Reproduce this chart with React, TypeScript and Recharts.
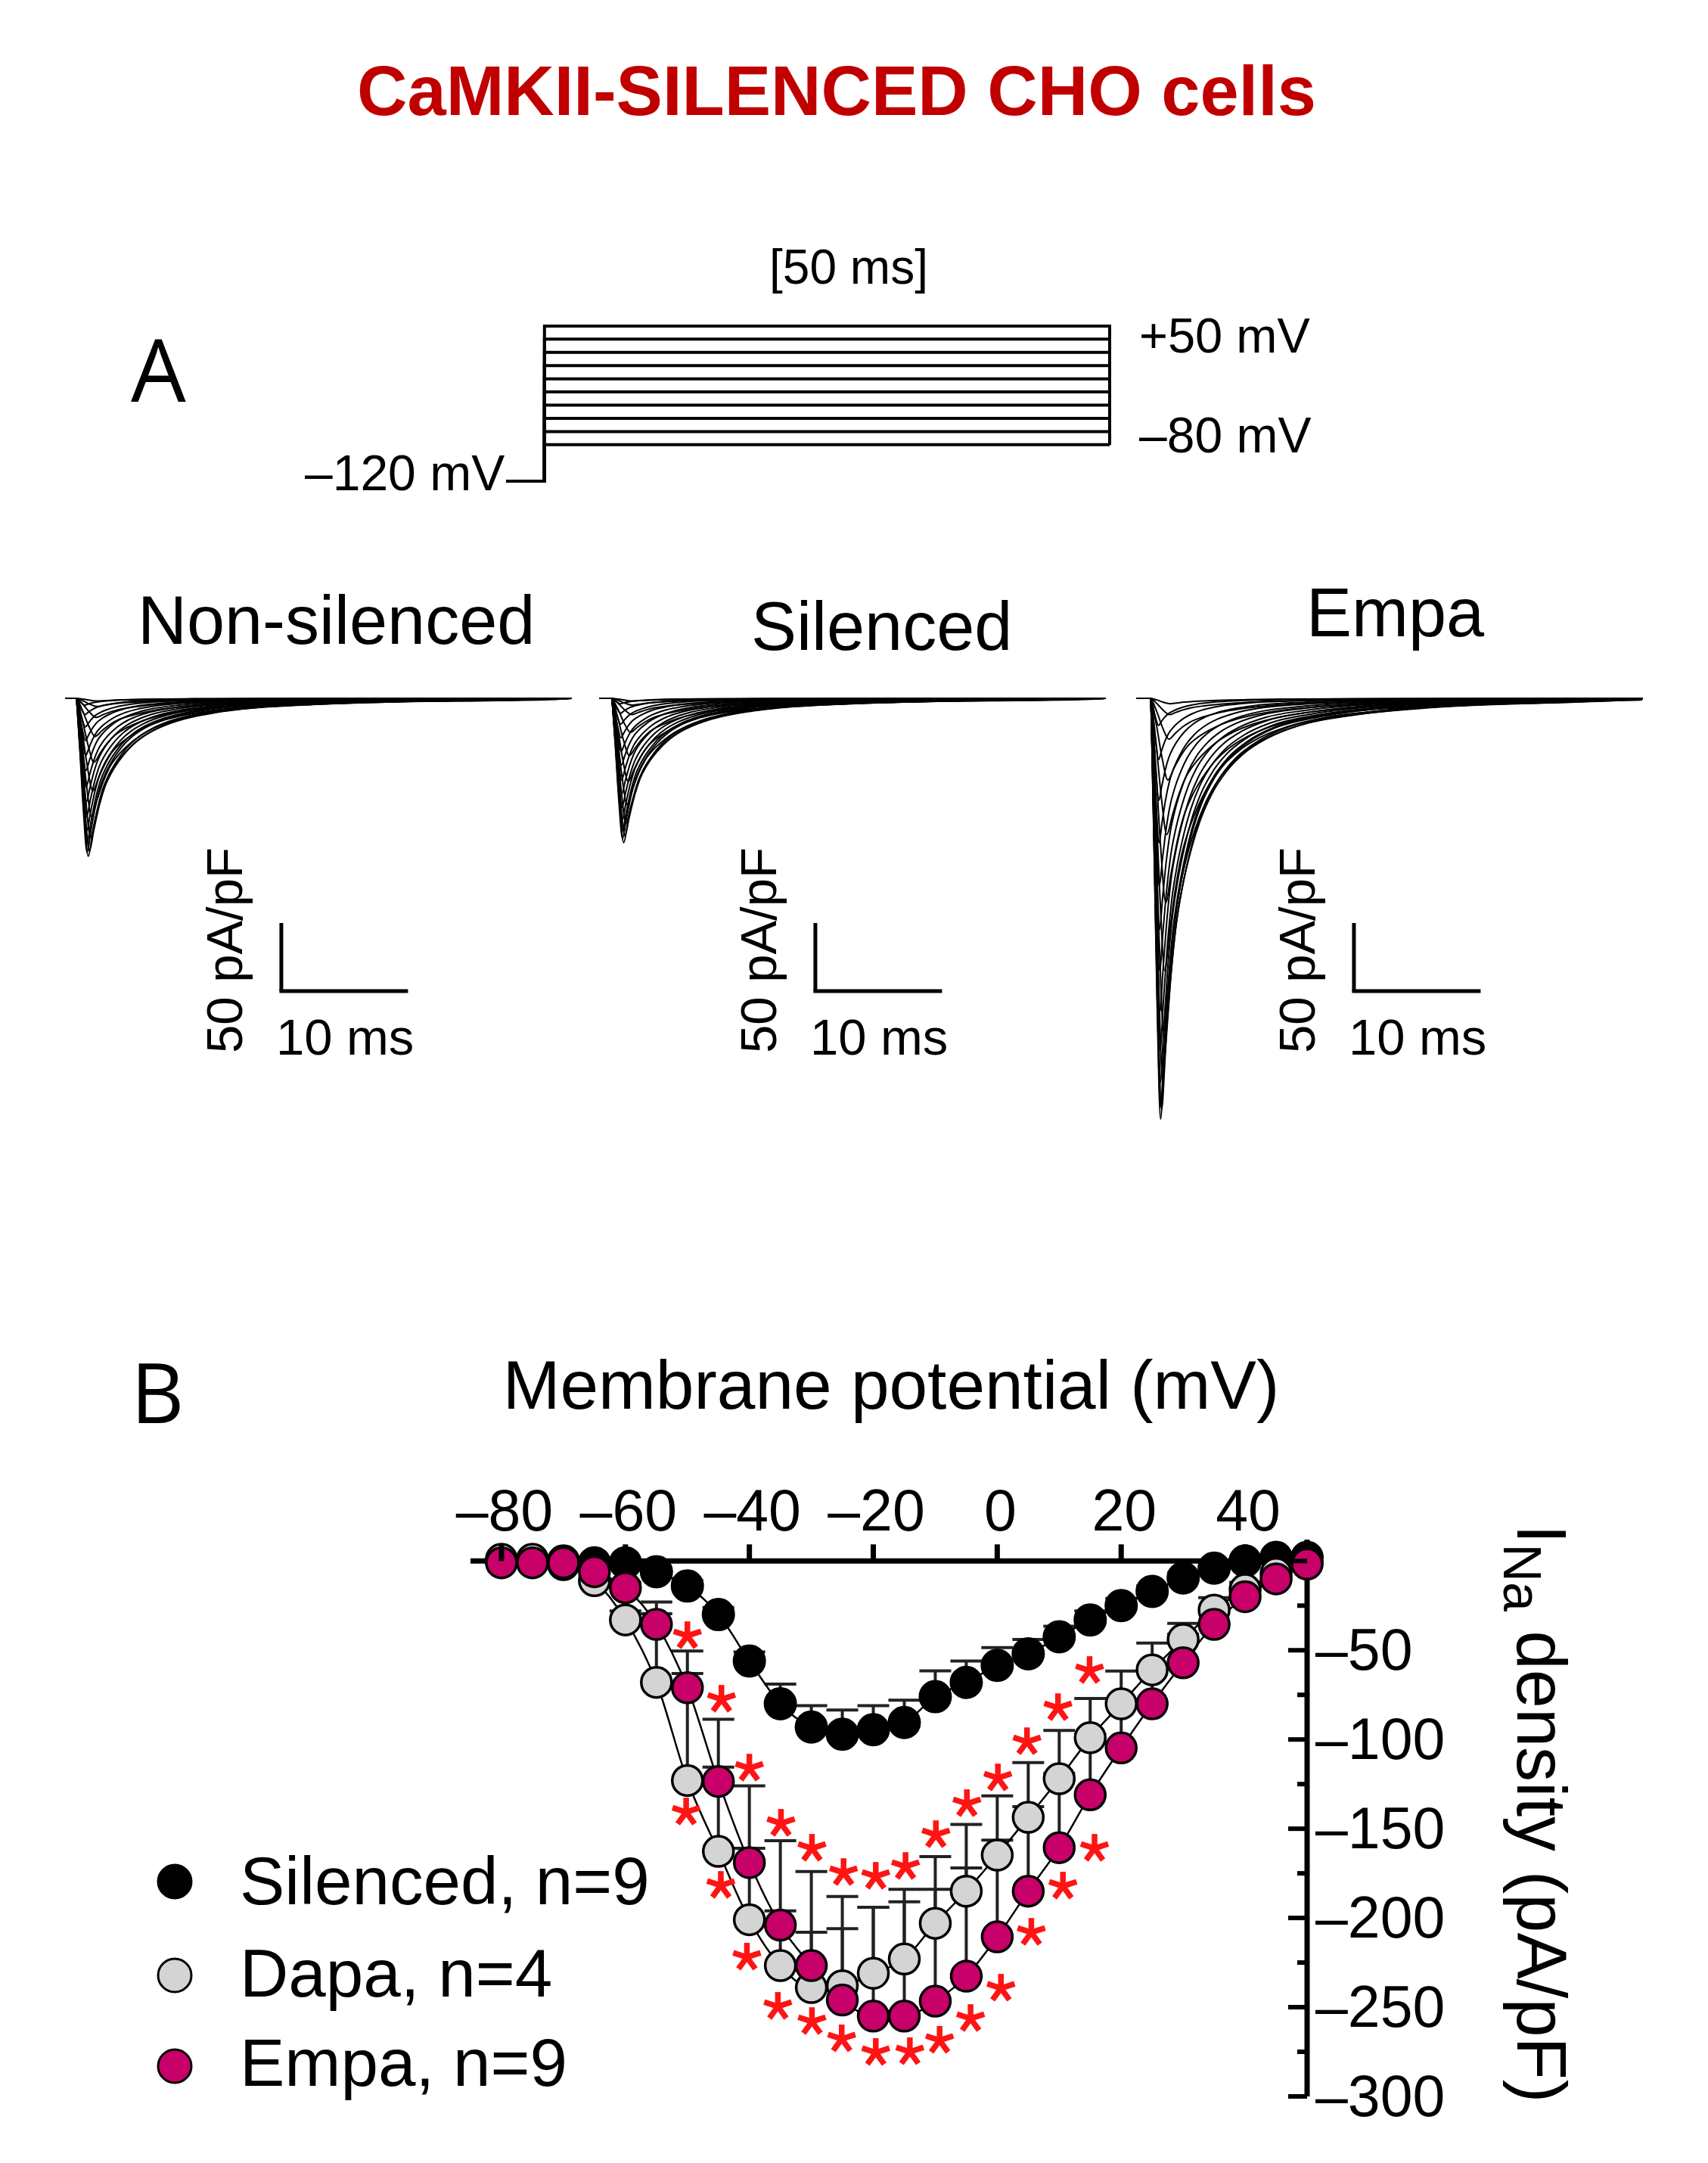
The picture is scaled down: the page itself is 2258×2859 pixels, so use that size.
import React from 'react';
import { ComposedChart, LineChart, Line, XAxis, YAxis, ErrorBar, ReferenceLine, Scatter } from 'recharts';

const FONT = '"Liberation Sans", Arial, Helvetica, sans-serif';
const LETTER_FONT = '"Open Sans", "Noto Sans", sans-serif';
const PINK = '#C8006A';
const GRAY = '#D4D4D4';
const STAR_RED = '#FF1414';

// ---------------- Panel B : I-V data (mV, pA/pF) ----------------
const voltages = [-80, -75, -70, -65, -60, -55, -50, -45, -40, -35, -30, -25, -20, -15, -10, -5, 0, 5, 10, 15, 20, 25, 30, 35, 40, 45, 50];
const silencedMean = [0, 0, 0, -1, -1, -6, -14, -30, -56, -80, -93, -97, -94.5, -90.5, -76, -68, -58.5, -52, -42.5, -33, -25, -17, -9.5, -4, 0, 2, 2];
const silencedSem = [1, 1, 1, 1, 1, 2, 3, 4, 5, 11, 12, 13.5, 13.5, 12.5, 14.5, 12, 10, 8, 6, 5, 4, 3, 3, 2, 1, 1, 1];
const dapaMean = [1, 1, -2, -11, -33, -68, -123, -162.7, -201, -226.7, -239, -238, -231, -223, -203, -185, -164.8, -143.6, -122, -99, -80, -61, -44, -27.5, -16, -7, -1];
const dapaSem = [1, 1, 1, 2, 5, 45, 72.6, 74, 75, 70, 65, 32, 37, 32, 19, 13, 8.4, 6, 3, 2, 2, 2, 3, 2, 2, 1, 1];
const empaMean = [-1, -1, -1, -6, -15, -35.5, -71, -123.5, -169, -204, -226.7, -246, -255, -255, -246.6, -232.6, -210.6, -185, -160.6, -131, -104.7, -80, -57, -35.5, -20, -10, -1.7];
const empaSem = [1, 1, 1, 2, 3, 6, 8, 8, 8, 8, 18.7, 58, 61, 71, 81, 85, 79, 72, 65.7, 54, 43, 34, 22, 15, 8, 4, 2];

// red significance asterisks (position in mV, pA/pF)
const upperStarV = [-50.0, -44.5, -40.0, -34.9, -29.9, -24.8, -19.6, -14.8, -9.9, -4.9, 0.1, 4.8, 9.8, 14.9];
const upperStarI = [-41.9, -77.5, -116.1, -147.0, -161.0, -174.6, -176.7, -171.2, -153.4, -136.0, -121.6, -101.3, -82.2, -61.4];
const lowerStarV = [-50.2, -44.6, -40.4, -35.4, -29.9, -25.1, -19.6, -14.1, -9.3, -4.3, 0.6, 5.5, 10.6, 15.7];
const lowerStarI = [-140.7, -181.8, -222.0, -249.6, -258.1, -267.8, -275.4, -275.0, -268.6, -256.4, -239.4, -208.1, -182.2, -161.0];

const xTicks = [-80, -60, -40, -20, 0, 20, 40];
const yTicks = [0, -25, -50, -75, -100, -125, -150, -175, -200, -225, -250, -275, -300];
const X_DOMAIN = [-85, 50];
const Y_DOMAIN = [-300, 12];

const legendItems = [
  { label: 'Silenced, n=9', fill: '#000000' },
  { label: 'Dapa, n=4', fill: GRAY },
  { label: 'Empa, n=9', fill: PINK },
];

// ---------------- Panel A : voltage protocol ----------------
const holdingMv = -120;
const stepLevels = [50, 35.6, 21.1, 6.7, -7.8, -22.2, -36.7, -51.1, -65.6, -80];
const stepDurationMs = 50;

// ---------------- Panel A : current traces ----------------
// normalised waveform of the fastest (largest) trace: time after onset (ms), fraction of peak
const shapeT = [0, 0.25, 0.5, 0.75, 1.0, 1.3, 1.6, 2.0, 2.5, 3.0, 3.7, 4.6, 5.6, 7.0, 9.0, 12, 16, 22, 30, 40];
const shapeF = [0, 0.3, 0.72, 1.0, 0.86, 0.7, 0.58, 0.48, 0.39, 0.32, 0.25, 0.19, 0.145, 0.105, 0.07, 0.045, 0.026, 0.013, 0.005, 0];
const nonSilencedPeaks = [-2, -6, -14, -28, -47, -68, -87, -102, -112, -116, -113, -106, -97, -87, -76, -65, -53, -42, -31, -21, -12, -5];
const silencedPeaks = [-2, -5, -12, -25, -42, -61, -78, -92, -101, -106, -103, -97, -89, -80, -70, -60, -49, -39, -29, -19, -11, -4];
const empaPeaks = [-4, -12, -30, -60, -100, -150, -200, -245, -280, -302, -309, -300, -282, -258, -230, -200, -170, -138, -106, -75, -45, -20];
const traceStretch = [1.9, 1.85, 1.8, 1.7, 1.6, 1.5, 1.4, 1.3, 1.2, 1.1, 1.0, 1.0, 0.98, 0.96, 0.94, 0.92, 0.9, 0.88, 0.86, 0.84, 0.82, 0.8];

const panelTitles = ['Non-silenced', 'Silenced', 'Empa'];
const panelPeaks = [nonSilencedPeaks, silencedPeaks, empaPeaks];
const panelOnsetMs = [0.84, 0.95, 1.1];
const panelTimeStretch = [1.2, 1.2, 1.1];
const scaleBarStartMs = [17.07, 17.07, 17.19];
const scaleBarTop = -165;
const scaleBarAmp = 50; // pA/pF
const scaleBarDur = 10; // ms

// ---------------- layout (pixels) ----------------
const PANEL_LEFT = [86, 792, 1502];
const PANEL_TITLE_X = [182, 993, 1727];
const PANEL_TITLE_Y = [851, 859, 841];
const TRACE_TOP = 905;
const TRACE_W = 670;
const TRACE_H = 612;

const MAIN_TOP = 1900;
const MAIN_W = 2258;
const MAIN_H = 959;
const X_AXIS_H = 30;
const Y_AXIS_W = 60;
const MAIN_MARGIN = { top: 135 - X_AXIS_H, right: 530 - Y_AXIS_W, bottom: 88, left: 622 };
const PLOT_H = 959 - 135 - 88;
const ZERO_OFFSET = (PLOT_H * (Y_DOMAIN[1] - 0)) / (Y_DOMAIN[1] - Y_DOMAIN[0]);

const ivRows = voltages.map((v, k) => ({
  v,
  silenced: silencedMean[k],
  silencedErr: [0, silencedSem[k]],
  dapa: dapaMean[k],
  dapaErr: [0, dapaSem[k]],
  empa: empaMean[k],
  empaErr: [0, empaSem[k]],
}));
const upperStars = upperStarV.map((v, k) => ({ v, i: upperStarI[k] }));
const lowerStars = lowerStarV.map((v, k) => ({ v, i: lowerStarI[k] }));

const fmt = (v: number) => (v < 0 ? '\u2013' + Math.abs(v) : String(v));

const XTick = (props: any) => {
  const { x, y, payload } = props;
  const zeroY = y + ZERO_OFFSET;
  return (
    <g>
      <line x1={x} x2={x} y1={zeroY - 22} y2={zeroY} stroke="#000" strokeWidth={7} />
      <text x={x + 4} y={zeroY - 40} textAnchor="middle" fontSize={77} fontFamily={FONT} fill="#000">
        {fmt(payload.value)}
      </text>
    </g>
  );
};

const YTick = (props: any) => {
  const { x, y, payload } = props;
  const v = payload.value;
  const major = v % 50 === 0;
  return (
    <g>
      <line x1={x - (major ? 25 : 13)} x2={x} y1={y} y2={y} stroke="#000" strokeWidth={6} />
      {major && v !== 0 && (
        <text x={x + 11} y={y + 26} textAnchor="start" fontSize={77} fontFamily={FONT} fill="#000">
          {fmt(v)}
        </text>
      )}
    </g>
  );
};

const StarShape = (props: any) => {
  const { cx, cy } = props;
  const arms = [-90, -18, 54, 126, 198];
  return (
    <g>
      {arms.map((a) => (
        <line
          key={a}
          x1={cx}
          y1={cy}
          x2={cx + 19 * Math.cos((a * Math.PI) / 180)}
          y2={cy + 19 * Math.sin((a * Math.PI) / 180)}
          stroke={STAR_RED}
          strokeWidth={7.5}
        />
      ))}
    </g>
  );
};

function traceData(peak: number, stretch: number, onset: number) {
  const pts: { t: number; v: number }[] = [{ t: 0, v: 0 }];
  for (let k = 0; k < shapeT.length; k++) {
    const t = onset + shapeT[k] * stretch;
    if (t > 40) break;
    pts.push({ t, v: peak * shapeF[k] });
  }
  pts.push({ t: 40, v: 0 });
  return pts;
}

function protocolData(level: number) {
  return [
    { t: -3.4, v: holdingMv },
    { t: 0, v: holdingMv },
    { t: 0, v: level },
    { t: stepDurationMs, v: level },
    { t: stepDurationMs, v: stepLevels[stepLevels.length - 1] },
  ];
}

const TracePanel = ({ p }: { p: number }) => (
  <div style={{ position: 'absolute', left: PANEL_LEFT[p], top: TRACE_TOP }}>
    <LineChart width={TRACE_W} height={TRACE_H} margin={{ top: 0, right: 0, bottom: 0, left: 0 }}>
      <XAxis type="number" dataKey="t" domain={[0, 40]} hide allowDataOverflow />
      <YAxis type="number" domain={[-330, 10]} hide allowDataOverflow />
      {panelPeaks[p].map((pk, i) => (
        <Line
          key={i}
          data={traceData(pk, traceStretch[i] * panelTimeStretch[p], panelOnsetMs[p])}
          dataKey="v"
          type="monotone"
          stroke="#000"
          strokeWidth={2}
          dot={false}
          activeDot={false}
          isAnimationActive={false}
        />
      ))}
      <ReferenceLine
        segment={[
          { x: scaleBarStartMs[p], y: scaleBarTop },
          { x: scaleBarStartMs[p], y: scaleBarTop - scaleBarAmp },
        ]}
        stroke="#000"
        strokeWidth={5}
      />
      <ReferenceLine
        segment={[
          { x: scaleBarStartMs[p] - 0.15, y: scaleBarTop - scaleBarAmp },
          { x: scaleBarStartMs[p] + scaleBarDur, y: scaleBarTop - scaleBarAmp },
        ]}
        stroke="#000"
        strokeWidth={5}
      />
    </LineChart>
  </div>
);

export default function App() {
  return (
    <div style={{ position: 'absolute', left: 0, top: 0, width: 2258, height: 2859, background: '#fff', overflow: 'hidden' }}>
      {/* voltage protocol */}
      <div style={{ position: 'absolute', left: 600, top: 400 }}>
        <LineChart width={900} height={260} margin={{ top: 31, right: 33, bottom: 24, left: 69 }}>
          <XAxis type="number" dataKey="t" domain={[-3.4, 50]} hide />
          <YAxis type="number" domain={[-120, 50]} hide />
          {stepLevels.map((lv) => (
            <Line
              key={lv}
              data={protocolData(lv)}
              dataKey="v"
              type="linear"
              stroke="#000"
              strokeWidth={4}
              dot={false}
              activeDot={false}
              isAnimationActive={false}
            />
          ))}
        </LineChart>
      </div>

      {/* current traces */}
      <TracePanel p={0} />
      <TracePanel p={1} />
      <TracePanel p={2} />

      {/* I-V plot */}
      <div style={{ position: 'absolute', left: 0, top: MAIN_TOP }}>
        <ComposedChart width={MAIN_W} height={MAIN_H} data={ivRows} margin={MAIN_MARGIN}>
          <XAxis
            type="number"
            dataKey="v"
            orientation="top"
            domain={X_DOMAIN}
            ticks={xTicks}
            interval={0}
            height={X_AXIS_H}
            axisLine={false}
            tickLine={false}
            tickSize={0}
            tickMargin={0}
            tick={<XTick />}
          />
          <YAxis
            type="number"
            orientation="right"
            domain={Y_DOMAIN}
            ticks={yTicks}
            interval={0}
            width={Y_AXIS_W}
            axisLine={{ stroke: '#000', strokeWidth: 7 }}
            tickLine={false}
            tickSize={0}
            tickMargin={0}
            tick={<YTick />}
          />
          <ReferenceLine y={0} stroke="#000" strokeWidth={7} />
          <Line dataKey="silenced" stroke="none" dot={{ r: 21, fill: '#000', stroke: '#000', strokeWidth: 2 }} activeDot={false} isAnimationActive={false} legendType="none" />
          <Line dataKey="dapa" stroke="none" dot={{ r: 20, fill: GRAY, stroke: '#000', strokeWidth: 3.5 }} activeDot={false} isAnimationActive={false} legendType="none" />
          <Line dataKey="silenced" stroke="none" dot={false} activeDot={false} isAnimationActive={false} legendType="none">
            <ErrorBar dataKey="silencedErr" width={21} stroke="#222" strokeWidth={4} direction="y" />
          </Line>
          <Line dataKey="dapa" stroke="none" dot={false} activeDot={false} isAnimationActive={false} legendType="none">
            <ErrorBar dataKey="dapaErr" width={21} stroke="#222" strokeWidth={4} direction="y" />
          </Line>
          <Line dataKey="empa" stroke="none" dot={false} activeDot={false} isAnimationActive={false} legendType="none">
            <ErrorBar dataKey="empaErr" width={21} stroke="#222" strokeWidth={4} direction="y" />
          </Line>
          <Line dataKey="empa" stroke="none" dot={{ r: 20, fill: PINK, stroke: '#000', strokeWidth: 3.5 }} activeDot={false} isAnimationActive={false} legendType="none" />
          <Line dataKey="silenced" type="monotone" stroke="#000" strokeWidth={2.5} dot={false} activeDot={false} isAnimationActive={false} legendType="none" />
          <Line dataKey="dapa" type="monotone" stroke="#000" strokeWidth={2.5} dot={false} activeDot={false} isAnimationActive={false} legendType="none" />
          <Line dataKey="empa" type="monotone" stroke="#000" strokeWidth={2.5} dot={false} activeDot={false} isAnimationActive={false} legendType="none" />
          <Scatter data={upperStars} dataKey="i" shape={<StarShape />} isAnimationActive={false} legendType="none" />
          <Scatter data={lowerStars} dataKey="i" shape={<StarShape />} isAnimationActive={false} legendType="none" />
        </ComposedChart>
      </div>

      {/* texts */}
      <svg width={2258} height={2859} style={{ position: 'absolute', left: 0, top: 0, pointerEvents: 'none' }}>
        <text x={1106} y={152} textAnchor="middle" fontFamily={FONT} fontWeight="bold" fontSize={92} fill="#C00000">
          CaMKII-SILENCED CHO cells
        </text>
        <text x={1122} y={375} textAnchor="middle" fontFamily={FONT} fontSize={64} fill="#000">[50 ms]</text>
        <text x={173} y={531} fontFamily={LETTER_FONT} fontSize={115} fill="#000">A</text>
        <text x={1506} y={466} fontFamily={FONT} fontSize={65} fill="#000">+50 mV</text>
        <text x={1506} y={598} fontFamily={FONT} fontSize={66} fill="#000">{'\u201380 mV'}</text>
        <text x={403} y={648} fontFamily={FONT} fontSize={66} fill="#000">{'\u2013120 mV'}</text>

        {panelTitles.map((t, p) => (
          <text key={t} x={PANEL_TITLE_X[p]} y={PANEL_TITLE_Y[p]} fontFamily={FONT} fontSize={90} fill="#000">{t}</text>
        ))}
        {PANEL_LEFT.map((l, p) => {
          const bx = l + (scaleBarStartMs[p] * TRACE_W) / 40;
          return (
            <g key={p}>
              <text x={bx - 52} y={1392} transform={`rotate(-90 ${bx - 52} 1392)`} fontFamily={FONT} fontSize={67} fill="#000">50 pA/pF</text>
              <text x={bx - 7} y={1394} fontFamily={FONT} fontSize={67} fill="#000">10 ms</text>
            </g>
          );
        })}

        <text x={173} y={1881} fontFamily={LETTER_FONT} fontSize={109} fill="#000">B</text>
        <text x={1178} y={1862} textAnchor="middle" fontFamily={FONT} fontSize={91} fill="#000">Membrane potential (mV)</text>
        <text x={2006} y={2015} transform="rotate(90 2006 2015)" fontFamily={FONT} fontSize={92} fill="#000">
          I<tspan fontSize={70} dy={18}>Na</tspan><tspan dy={-18}> density (pA/pF)</tspan>
        </text>

        {legendItems.map((it, k) => (
          <g key={it.label}>
            <circle cx={231} cy={[2487, 2611, 2731][k]} r={22} fill={it.fill} stroke="#000" strokeWidth={3} />
            <text x={317} y={[2517, 2639, 2757][k]} fontFamily={FONT} fontSize={89} fill="#000">{it.label}</text>
          </g>
        ))}
      </svg>
    </div>
  );
}
